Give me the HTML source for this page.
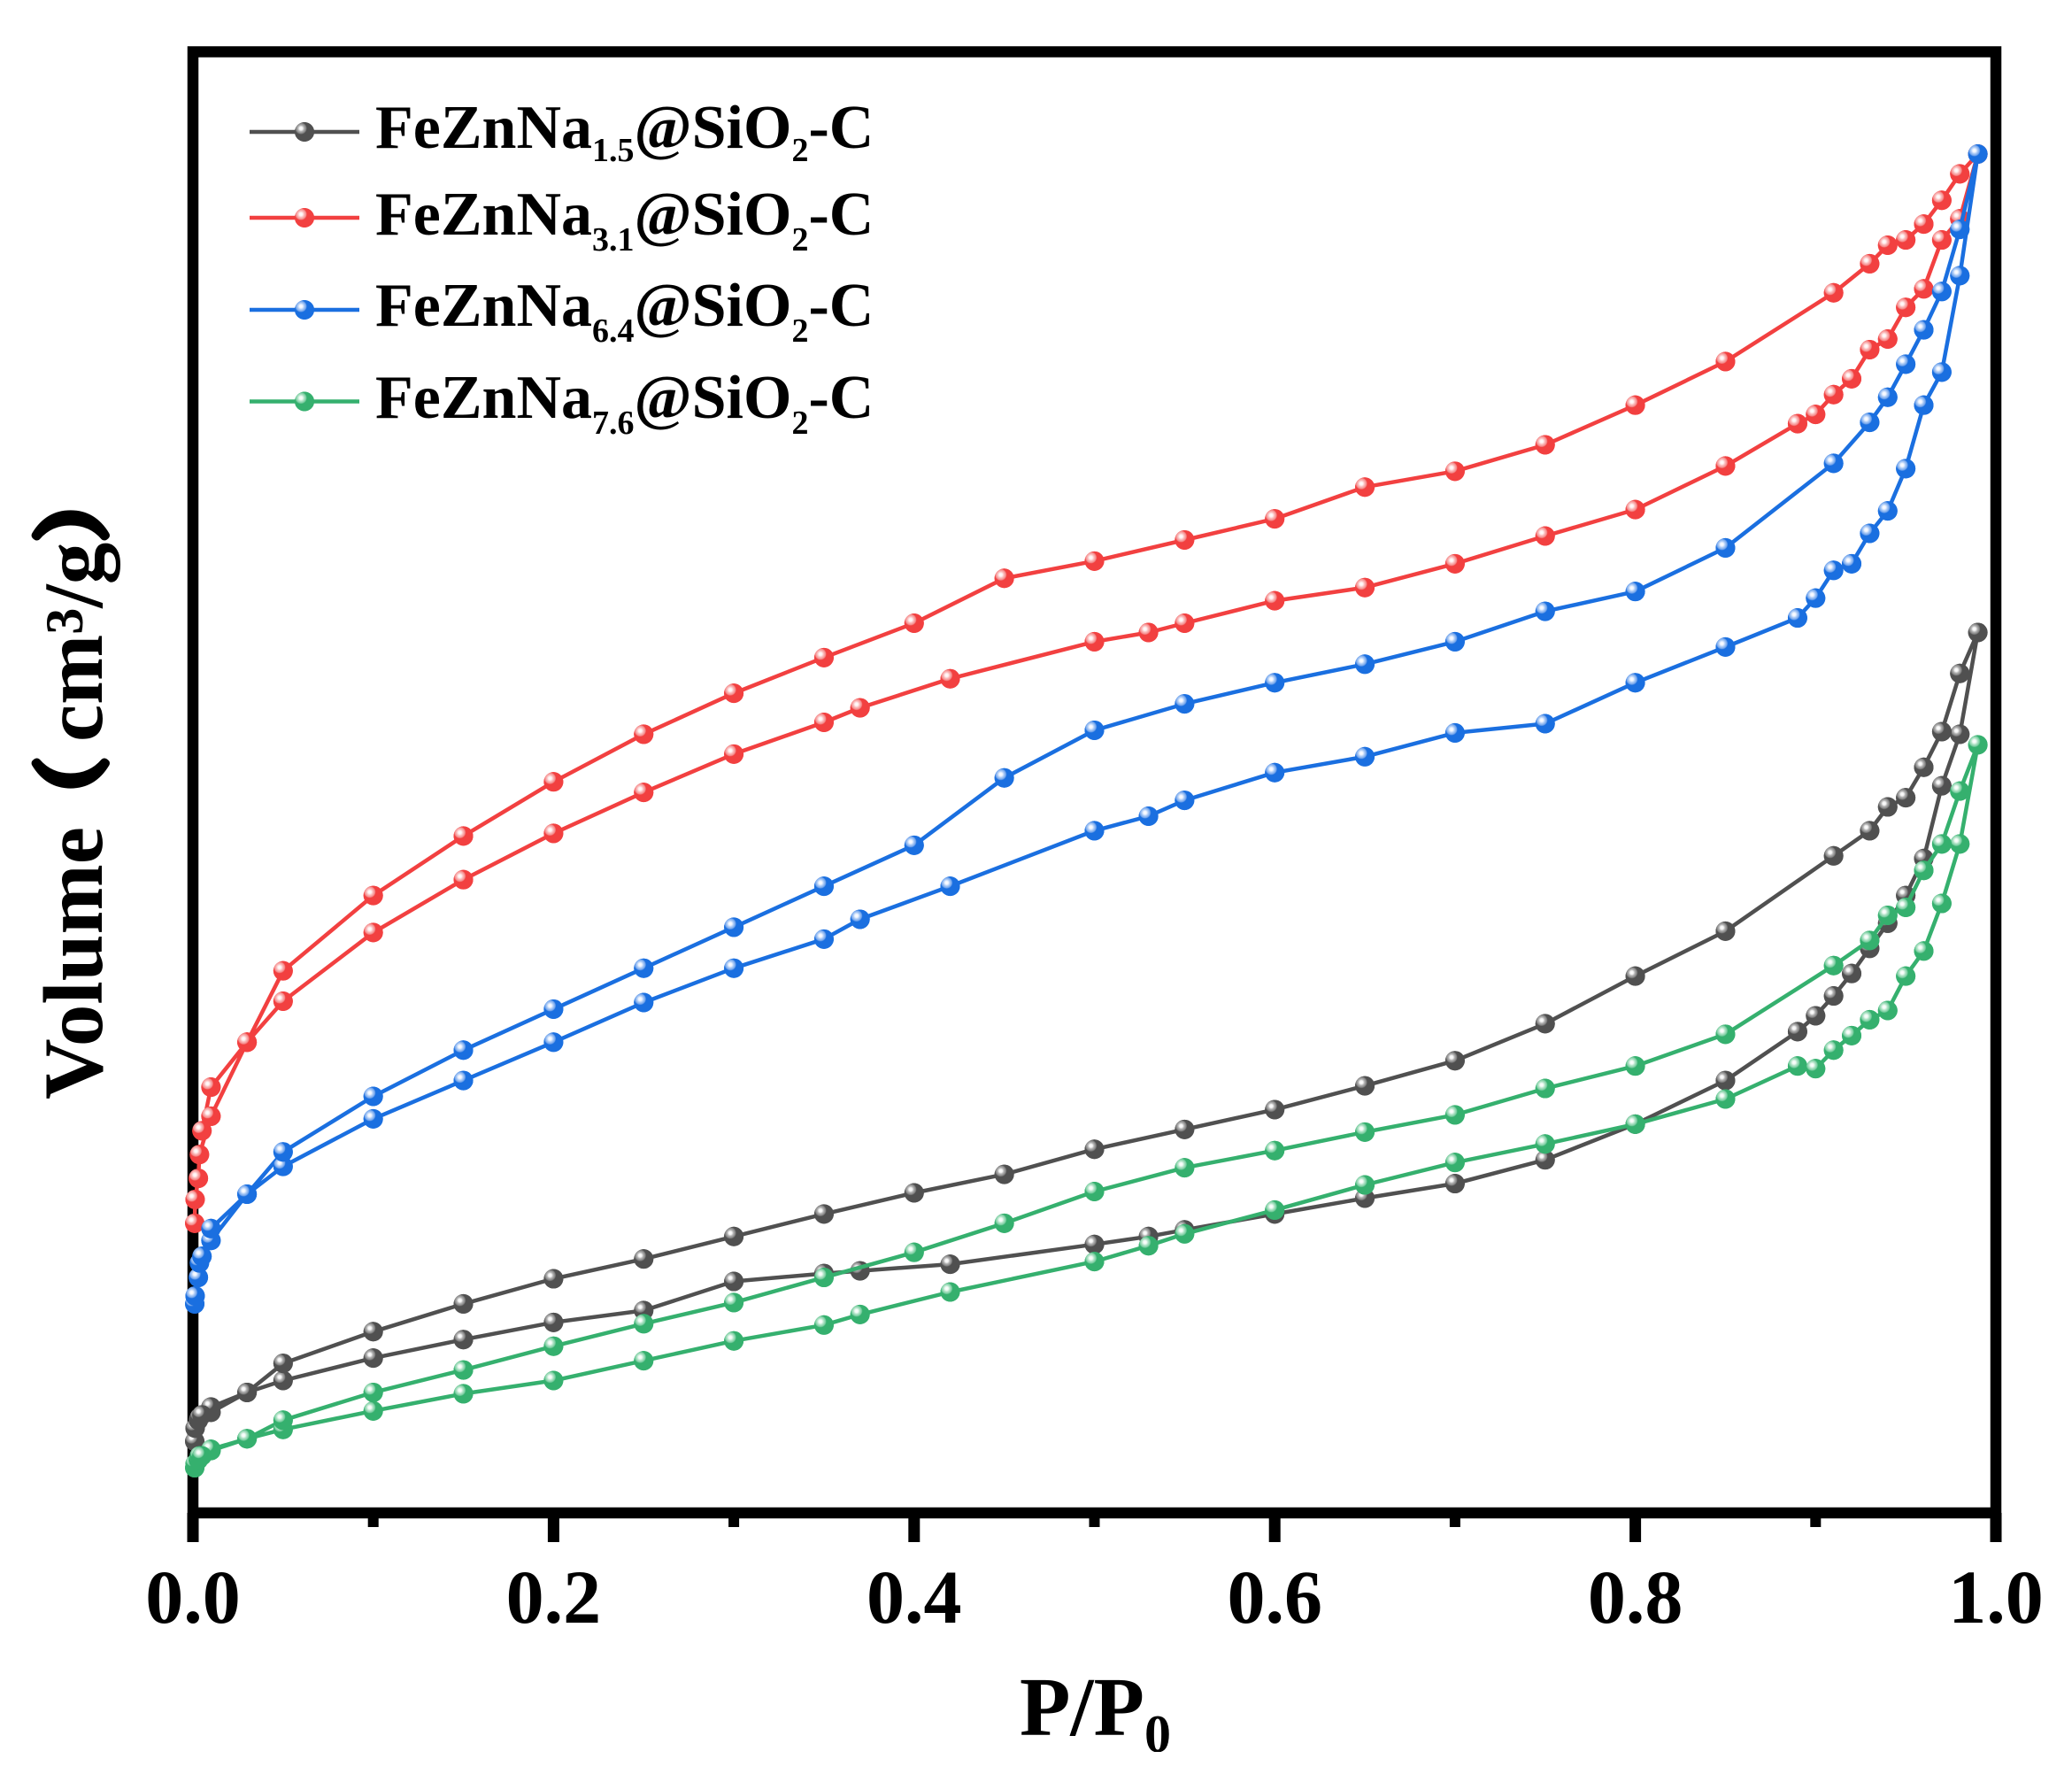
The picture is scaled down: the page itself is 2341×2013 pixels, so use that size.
<!DOCTYPE html>
<html lang="en">
<head>
<meta charset="utf-8">
<title>N2 isotherms</title>
<style>
html,body{margin:0;padding:0;background:#fff;}
svg{display:block;}
text{font-family:"Liberation Serif","Noto Serif CJK SC",serif;font-weight:bold;fill:#000;}
</style>
</head>
<body>
<svg id="chart" xmlns="http://www.w3.org/2000/svg" width="2341" height="2013" viewBox="0 0 2341 2013">
  <defs>
    <radialGradient id="g-black" cx="0.32" cy="0.32" r="0.31">
      <stop offset="0" stop-color="#ffffff"/><stop offset="0.28" stop-color="#f2f2f2"/><stop offset="0.5" stop-color="#b5b5b5"/><stop offset="0.85" stop-color="#808080"/><stop offset="1" stop-color="#505050"/>
    </radialGradient>
    <radialGradient id="g-red" cx="0.32" cy="0.32" r="0.31">
      <stop offset="0" stop-color="#ffffff"/><stop offset="0.28" stop-color="#fff0f0"/><stop offset="0.5" stop-color="#fbc0c0"/><stop offset="0.85" stop-color="#f58888"/><stop offset="1" stop-color="#f24040"/>
    </radialGradient>
    <radialGradient id="g-blue" cx="0.32" cy="0.32" r="0.31">
      <stop offset="0" stop-color="#ffffff"/><stop offset="0.28" stop-color="#eef4ff"/><stop offset="0.5" stop-color="#b4d0f7"/><stop offset="0.85" stop-color="#6ea2ec"/><stop offset="1" stop-color="#1a6fe0"/>
    </radialGradient>
    <radialGradient id="g-green" cx="0.32" cy="0.32" r="0.31">
      <stop offset="0" stop-color="#ffffff"/><stop offset="0.28" stop-color="#effaf4"/><stop offset="0.5" stop-color="#b8e6cc"/><stop offset="0.85" stop-color="#76cc9e"/><stop offset="1" stop-color="#35b06e"/>
    </radialGradient>
    <clipPath id="title-clip"><rect x="1100" y="1880" width="300" height="99"/></clipPath>
  </defs>

  <g id="axes"></g>
  <rect x="218" y="58.5" width="2037" height="1650.5" fill="none" stroke="#000" stroke-width="12.5"/>
  <g id="series"></g>

  <text clip-path="url(#title-clip)" x="1152" y="1960" font-size="94">P/P<tspan font-size="60" dy="19">0</tspan></text>
  <g>
    <text transform="translate(115,1242) rotate(-90)" font-size="95">Volume</text>
    <text transform="translate(112,940) rotate(-90)" font-size="84" stroke="#000" stroke-width="9" stroke-linejoin="round">（</text>
    <text transform="translate(115,838) rotate(-90)" font-size="95">cm<tspan font-size="60" dy="-22">3</tspan><tspan dy="22">/g</tspan></text>
    <text transform="translate(112,611) rotate(-90)" font-size="84" stroke="#000" stroke-width="9" stroke-linejoin="round">）</text>
  </g>

  <g id="legend">
    <text x="424" y="167" font-size="70">FeZnNa<tspan font-size="38" dy="15">1.5</tspan><tspan dy="-15">@SiO</tspan><tspan font-size="38" dy="15">2</tspan><tspan dy="-15">-C</tspan></text>
    <text x="424" y="265" font-size="70">FeZnNa<tspan font-size="38" dy="18">3.1</tspan><tspan dy="-18">@SiO</tspan><tspan font-size="38" dy="18">2</tspan><tspan dy="-18">-C</tspan></text>
    <text x="424" y="368" font-size="70">FeZnNa<tspan font-size="38" dy="18">6.4</tspan><tspan dy="-18">@SiO</tspan><tspan font-size="38" dy="18">2</tspan><tspan dy="-18">-C</tspan></text>
    <text x="424" y="472" font-size="70">FeZnNa<tspan font-size="38" dy="18">7.6</tspan><tspan dy="-18">@SiO</tspan><tspan font-size="38" dy="18">2</tspan><tspan dy="-18">-C</tspan></text>
  </g>
</svg>
<script>
const adsorptionP = [0.001,0.0012,0.003,0.0036,0.01,0.03,0.05,0.1,0.15,0.2,0.25,0.3,0.35,0.37,0.42,0.5,0.53,0.55,0.6,0.65,0.7,0.75,0.8,0.85,0.89,0.9,0.91,0.92,0.93,0.94,0.95,0.96,0.97,0.98,0.99];
const desorptionP = [0.98,0.97,0.96,0.95,0.94,0.93,0.91,0.85,0.8,0.75,0.7,0.65,0.6,0.55,0.5,0.45,0.4,0.35,0.3,0.25,0.2,0.15,0.1,0.05,0.03,0.01,0.005];

const blackAds = [55,65,71,73,77,92,101,118,132,145,154,176,182,184,189,204,210,215,227,239,250,268,295,328,365,377,392,409,428,447,468,496,551,590,667];
const blackDes = [636,592,565,542,535,517,498,441,407,371,343,324,306,291,276,257,243,227,210,193,178,159,138,114,92,81,75];
const redAds = [220,238,254,272,301,357,388,440,480,515,546,575,599,610,632,660,667,674,691,701,719,740,760,793,825,832,847,859,881,889,913,927,964,980,1029];
const redDes = [1014,994,976,964,960,946,924,872,839,809,789,777,753,737,721,708,674,648,621,590,554,513,468,411,357,323,290];
const blueAds = [159,165,179,190,207,242,263,299,328,357,387,413,435,450,475,517,528,540,561,573,591,598,629,656,678,693,714,719,742,759,791,839,864,937,1029];
const blueDes = [972,925,896,870,845,826,795,731,698,683,660,643,629,613,593,557,506,475,444,413,382,351,316,274,242,216,195];
const greenAds = [35,38,41,44,48,57,64,78,91,101,116,131,143,151,168,191,203,212,230,249,266,280,295,314,339,337,351,362,374,381,407,426,462,507,582];
const greenDes = [547,507,487,459,453,434,415,363,339,322,302,289,275,262,244,220,198,179,160,144,127,109,92,71,57,49,44];

const majorTicks = [0,0.2,0.4,0.6,0.8,1];
const minorTicks = [0.1,0.3,0.5,0.7,0.9];
const tickLabels = ["0.0","0.2","0.4","0.6","0.8","1.0"];

const NS = 'http://www.w3.org/2000/svg';
function xAxis(p){ return 218 + 2037 * p; }
function yAxis(v){ return 1710.3 - 1.493 * v; }
function make(tag, attrs, parent){
  const el = document.createElementNS(NS, tag);
  for (const k in attrs) el.setAttribute(k, attrs[k]);
  parent.appendChild(el);
  return el;
}

const axes = document.getElementById('axes');
majorTicks.forEach(function(t, i){
  const tick = make('rect', {x: xAxis(t) - 6.5, y: 1709, width: 13, height: 33, fill: '#000'}, axes);
  
  
  const lab = make('text', {x: xAxis(t), y: 1833, 'font-size': 86, 'text-anchor': 'middle'}, axes);
  lab.textContent = tickLabels[i];
  
  
});
minorTicks.forEach(function(t){
  const tick = make('rect', {x: xAxis(t) - 6, y: 1709, width: 12, height: 16, fill: '#000'}, axes);
  
  
});

function marker(cx, cy, color, grad, parent){
  const m = make('circle', {cx: cx, cy: cy, r: 11, fill: color}, parent);
  
  
  const h = make('circle', {cx: cx, cy: cy, r: 11, fill: 'url(#' + grad + ')'}, parent);
  
  
}

const seriesGroup = document.getElementById('series');
function drawSeries(ads, des, color, grad, name){
  const g = make('g', {}, seriesGroup);
  
  
  const pts = [];
  ads.forEach(function(v, i){ pts.push([xAxis(adsorptionP[i]), yAxis(v)]); });
  des.forEach(function(v, i){ pts.push([xAxis(desorptionP[i]), yAxis(v)]); });
  const line = make('polyline', {
    points: pts.map(function(p){ return p[0].toFixed(1) + ',' + p[1].toFixed(1); }).join(' '),
    fill: 'none', stroke: color, 'stroke-width': 4.5, 'stroke-linejoin': 'round'
  }, g);
  
  
  pts.forEach(function(p){ marker(p[0], p[1], color, grad, g); });
}
drawSeries(blackAds, blackDes, '#505050', 'g-black', 'series-fezn-na-1-5');
drawSeries(redAds, redDes, '#f24040', 'g-red', 'series-fezn-na-3-1');
drawSeries(blueAds, blueDes, '#1a6fe0', 'g-blue', 'series-fezn-na-6-4');
drawSeries(greenAds, greenDes, '#35b06e', 'g-green', 'series-fezn-na-7-6');

const legend = document.getElementById('legend');
function legendSwatch(y, color, grad){
  const l = make('line', {x1: 282, x2: 406, y1: y, y2: y, stroke: color, 'stroke-width': 4.5}, legend);
  
  
  marker(344, y, color, grad, legend);
}
legendSwatch(149, '#505050', 'g-black');
legendSwatch(246, '#f24040', 'g-red');
legendSwatch(350, '#1a6fe0', 'g-blue');
legendSwatch(453.5, '#35b06e', 'g-green');
</script>
</body>
</html>
